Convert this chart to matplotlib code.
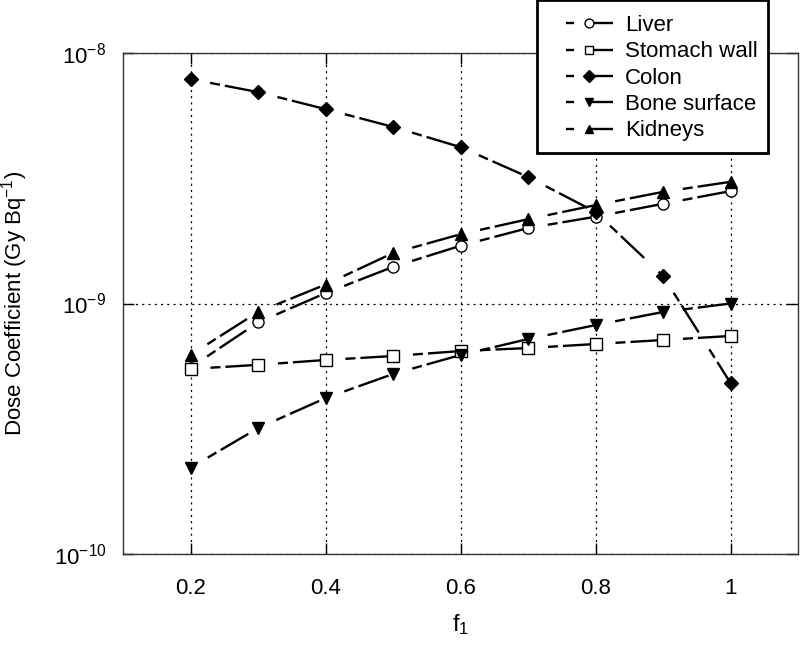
import matplotlib
matplotlib.use('Agg')
import matplotlib.pyplot as plt
from matplotlib.lines import Line2D
from matplotlib.patches import Rectangle
from matplotlib.ticker import NullLocator

plt.rcParams['font.family'] = ['Liberation Sans', 'DejaVu Sans']
plt.rcParams['mathtext.fontset'] = 'custom'
plt.rcParams['mathtext.rm'] = 'Liberation Sans'
plt.rcParams['mathtext.it'] = 'Liberation Sans:italic'
plt.rcParams['mathtext.default'] = 'regular'
plt.rcParams['lines.scale_dashes'] = False

# Datos
f1 = [0.2, 0.3, 0.4, 0.5, 0.6, 0.7, 0.8, 0.9, 1.0]
liver = [5.55e-10, 8.4e-10, 1.10e-9, 1.40e-9, 1.70e-9, 2.00e-9, 2.22e-9, 2.50e-9, 2.81e-9]
stomach = [5.48e-10, 5.69e-10, 5.95e-10, 6.17e-10, 6.46e-10, 6.64e-10, 6.89e-10, 7.15e-10, 7.42e-10]
colon = [7.87e-9, 6.98e-9, 5.97e-9, 5.07e-9, 4.21e-9, 3.20e-9, 2.32e-9, 1.29e-9, 4.82e-10]
bone = [2.21e-10, 3.18e-10, 4.19e-10, 5.23e-10, 6.23e-10, 7.21e-10, 8.20e-10, 9.25e-10, 1.00e-9]
kidneys = [6.23e-10, 9.25e-10, 1.19e-9, 1.59e-9, 1.89e-9, 2.17e-9, 2.47e-9, 2.79e-9, 3.06e-9]

series = [
    ('Liver', liver, 'o', 'white', 8),
    ('Stomach wall', stomach, 's', 'white', 8),
    ('Colon', colon, 'D', 'black', 7.5),
    ('Bone surface', bone, 'v', 'black', 8),
    ('Kidneys', kidneys, '^', 'black', 8),
]

xticks = [0.2, 0.4, 0.6, 0.8, 1.0]
xticklabels = ['0.2', '0.4', '0.6', '0.8', '1']
yticks = [1e-10, 1e-9, 1e-8]
yticklabels = ['$10^{-10}$', '$10^{-9}$', '$10^{-8}$']

# patron: hueco, guion corto, hueco, guion largo (se reinicia en cada tramo)
patron = (33.8, (7.2, 3.6, 23, 14.4))

fig = plt.figure(figsize=(8, 6.47), dpi=100)
ax = fig.add_axes([123/800, 1 - 554/647, (798 - 123)/800, (554 - 53)/647])

handles = []
for nombre, valores, marcador, relleno, tam in series:
    for i in range(len(f1) - 1):
        ax.plot(f1[i:i + 2], valores[i:i + 2], color='black', linewidth=1.7,
                linestyle=patron, dash_capstyle='butt', zorder=2)
    ax.plot(f1, valores, linestyle='none', marker=marcador, markersize=tam,
            markerfacecolor=relleno, markeredgecolor='black',
            markeredgewidth=1.0, zorder=3)
    handles.append(Line2D([], [], color='black', linewidth=1.7,
                          linestyle=(0, (5.8, 12.2, 20, 4)), marker=marcador,
                          markersize=tam * 0.8, markerfacecolor=relleno,
                          markeredgecolor='black', markeredgewidth=1.0,
                          label=nombre))

ax.set_yscale('log')
ax.set_xlim(0.1, 1.1)
ax.set_ylim(1e-10, 1e-8)
ax.set_xticks(xticks)
ax.set_xticklabels(xticklabels)
ax.set_yticks(yticks)
ax.set_yticklabels(yticklabels)
ax.yaxis.set_minor_locator(NullLocator())
ax.xaxis.set_minor_locator(NullLocator())
ax.tick_params(direction='in', length=8, width=1, top=True, right=True,
               labelsize=16, colors='black')
ax.tick_params(axis='x', pad=17)
ax.tick_params(axis='y', pad=12)
ax.grid(True, which='major', color='black', linestyle=(0, (1.5, 3)), linewidth=0.9)
for s in ax.spines.values():
    s.set_linewidth(1.0)
    s.set_color('#333333')

ax.set_xlabel('f$_1$', fontsize=17)
ax.set_ylabel('Dose Coefficient (Gy Bq$^{-1}$)', fontsize=16)
ax.xaxis.set_label_coords(0.5, -0.115)
ax.yaxis.set_label_coords(-0.138, 0.5)

# marco de la leyenda dibujado aparte (mas margen a la izquierda)
fig.patches.append(Rectangle((537/800, 1 - 153/647), (768 - 537)/800, 153/647,
                             transform=fig.transFigure, facecolor='white',
                             edgecolor='black', linewidth=2, zorder=4))
leg = fig.legend(handles=handles, loc='upper left',
                 bbox_to_anchor=(566/800, 1 - 15/647), fontsize=16,
                 frameon=False, handlelength=2.1, borderpad=0, borderaxespad=0,
                 labelspacing=0.24, handletextpad=0.55)
leg.set_zorder(5)

plt.savefig('out.png', dpi=100)
